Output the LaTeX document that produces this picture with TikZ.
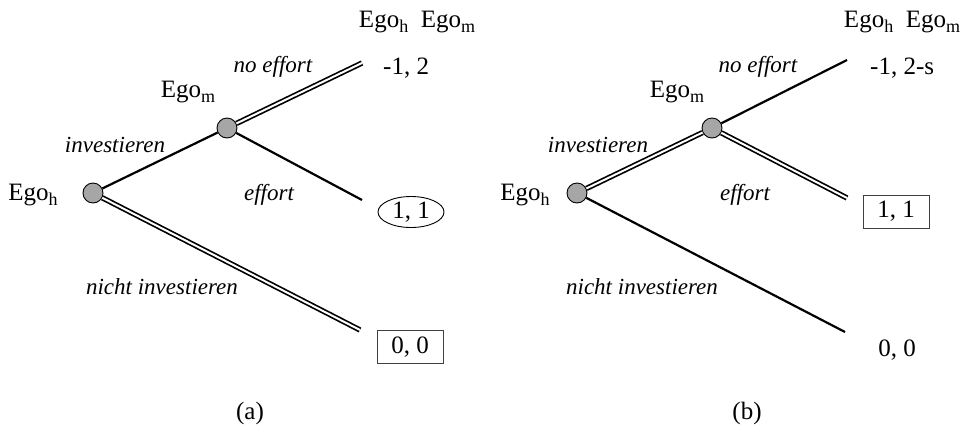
\documentclass[tikz,border=0pt]{standalone}
\usepackage{fontspec}
\setmainfont{Liberation Serif}
\usetikzlibrary{shapes.geometric}
\newcommand{\ego}[1]{Ego\raisebox{-.4ex}{\fontsize{18}{18}\selectfont #1}}

\begin{document}
\begin{tikzpicture}[x=1pt,y=-1pt,
  decnode/.style={circle,draw,fill=black!35,minimum size=20pt,inner sep=0pt,line width=.9pt},
  branch/.style={line width=2.2pt},
  eqbranch/.style={draw=black,double=white,double distance=2pt,line width=1.7pt},
  lbl/.style={inner sep=0pt,font=\fontsize{25}{29}\selectfont},
  act/.style={inner sep=0pt,font=\fontsize{23}{27}\selectfont\itshape},
  boxed/.style={draw=black!75,line width=.9pt,minimum width=66pt,minimum height=33pt,inner sep=0pt},
  ringed/.style={ellipse,draw,line width=.9pt,minimum width=66pt,minimum height=31pt,inner sep=0pt}]
\path[use as bounding box] (0,0) rectangle (966,429);
% (a)
\node[decnode] (hA) at (93,193) {};
\node[decnode] (mA) at (227,128) {};
\coordinate (noA) at (362,63);
\coordinate (efA) at (362,200);
\coordinate (niA) at (360,330);
\draw[branch] (hA) -- (mA);
\draw[eqbranch] (mA) -- (noA);
\draw[branch] (mA) -- (efA);
\draw[eqbranch] (hA) -- (niA);
\node[lbl] (headA) at (417,22) {\ego{h}\ \ \ego{m}};
\node[lbl,anchor=west] (pnoA) at (383,68) {-1, 2};
\node[lbl,ringed] (pefA) at (411,212) {1, 1};
\node[lbl,boxed] (pniA) at (410,347) {0, 0};
\node[lbl] (egohA) at (33,195) {\ego{h}};
\node[lbl] (egomA) at (188,92) {\ego{m}};
\node[act] (invA) at (115,145) {investieren};
\node[act] (noeA) at (273,67) {no effort};
\node[act] (effA) at (269,195) {effort};
\node[act] (nichtA) at (162,287) {nicht investieren};
\node[lbl] (capA) at (250,413) {(a)};
% (b)
\node[decnode] (hB) at (577,193) {};
\node[decnode] (mB) at (712,128) {};
\coordinate (noB) at (847,60);
\coordinate (efB) at (847,198);
\coordinate (niB) at (845,332);
\draw[eqbranch] (hB) -- (mB);
\draw[branch] (mB) -- (noB);
\draw[eqbranch] (mB) -- (efB);
\draw[branch] (hB) -- (niB);
\node[lbl] (headB) at (902,22) {\ego{h}\ \ \ego{m}};
\node[lbl,anchor=west] (pnoB) at (870,68) {-1, 2-s};
\node[lbl,boxed] (pefB) at (896,211.5) {1, 1};
\node[lbl] (pniB) at (897,350) {0, 0};
\node[lbl] (egohB) at (525,195) {\ego{h}};
\node[lbl] (egomB) at (677,92) {\ego{m}};
\node[act] (invB) at (598,145) {investieren};
\node[act] (noeB) at (758,67) {no effort};
\node[act] (effB) at (745,195) {effort};
\node[act] (nichtB) at (642,287) {nicht investieren};
\node[lbl] (capB) at (747,413) {(b)};
\end{tikzpicture}
\end{document}
